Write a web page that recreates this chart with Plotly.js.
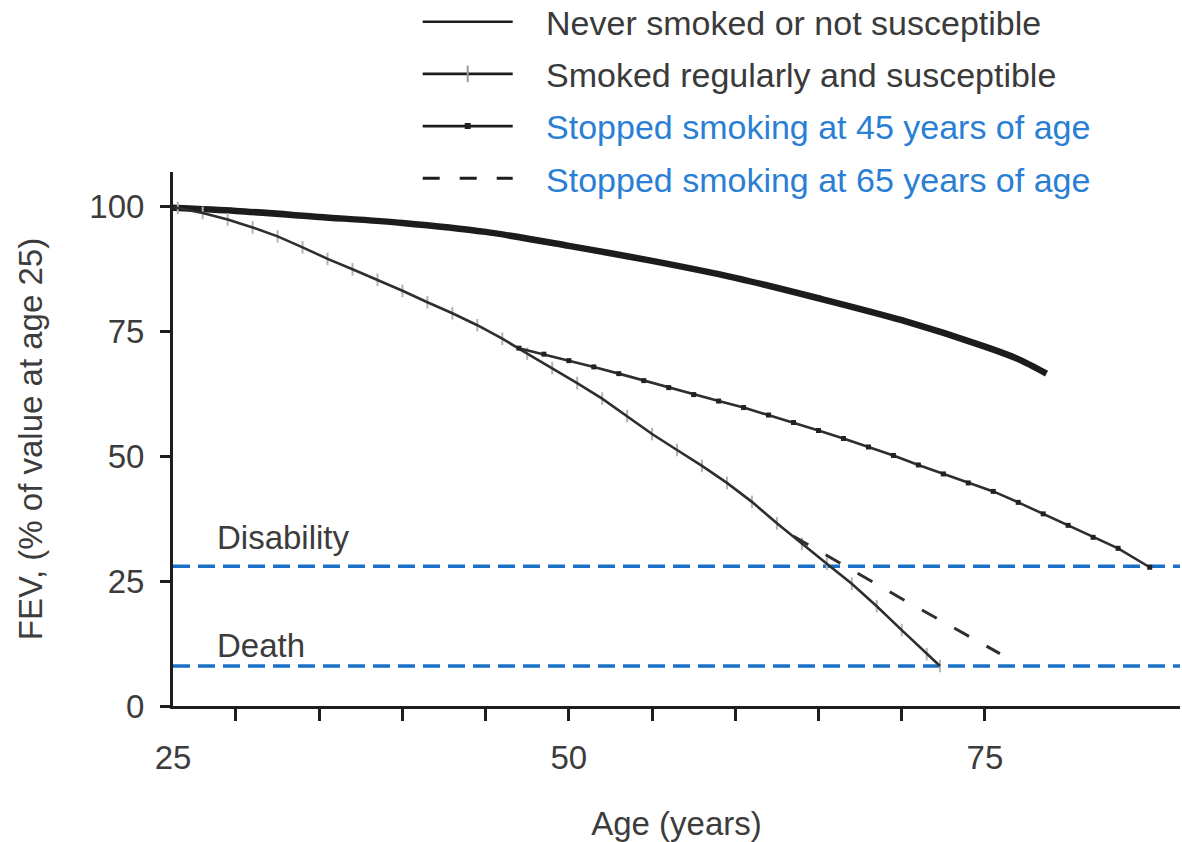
<!DOCTYPE html>
<html>
<head>
<meta charset="utf-8">
<script src="https://cdn.plot.ly/plotly-3.0.1.min.js"></script>
<style>html,body{margin:0;padding:0;background:#fff;}#chart{width:1182px;height:842px;}</style>
</head>
<body>
<div id="chart"></div>
<script>
// ---- data ----
const agesNever = [25, 30, 35, 40, 45, 50, 55, 60, 65, 70, 75, 77, 78.7];
const fevNever  = [100, 99.2, 98.0, 96.8, 95.0, 92.2, 89.2, 85.8, 81.7, 77.3, 72.0, 69.5, 66.6];

const agesSmoker = [25, 26.5, 28, 29.5, 31, 32.5, 34, 35.5, 37, 38.5, 40, 41.5, 43, 44.5, 46, 47.5, 49, 50.5, 52, 53.5, 55, 56.5, 58, 59.5, 61, 62.5, 64, 65.5, 67, 68.5, 70, 71.5, 72.3];
const fevSmoker  = [100.5, 99.8, 98.8, 97.5, 95.9, 94.1, 91.9, 89.6, 87.5, 85.4, 83.2, 80.9, 78.7, 76.3, 73.6, 70.6, 67.7, 64.7, 61.6, 58.1, 54.5, 51.3, 48.1, 44.7, 40.9, 36.6, 32.5, 28.5, 24.5, 20.0, 15.2, 10.4, 8.0];

const agesStop45 = [47, 48.5, 50, 51.5, 53, 54.5, 56, 57.5, 59, 60.5, 62, 63.5, 65, 66.5, 68, 69.5, 71, 72.5, 74, 75.5, 77, 78.5, 80, 81.5, 83, 84.9];
const fevStop45  = [71.7, 70.5, 69.2, 67.95, 66.6, 65.2, 63.8, 62.4, 61.1, 59.8, 58.3, 56.8, 55.2, 53.6, 51.9, 50.2, 48.3, 46.5, 44.7, 43.0, 40.8, 38.5, 36.2, 33.8, 31.6, 27.8];

const agesStop65 = [63.5, 70, 75.9];
const fevStop65  = [34.0, 21.5, 10.5];

const thresholdValues = [28, 8];
const thresholdLabels = ['Disability', 'Death'];

const seriesNames = [
  'Never smoked or not susceptible',
  'Smoked regularly and susceptible',
  'Stopped smoking at 45 years of age',
  'Stopped smoking at 65 years of age'
];
const seriesNameColors = ['#3a3a3a', '#3a3a3a', '#2a7fd4', '#2a7fd4'];

const xTickVals = [30, 35, 40, 45, 50, 55, 60, 65, 70, 75];
const xLabelVals = [50, 75];
const yTickVals = [0, 25, 50, 75, 100];

// ---- chart ----
const FONT = 'Liberation Sans, Arial, sans-serif';
const TXT = '#3c3c3c';
const BLUE = '#1a70c6';
const xStart = 26.215, xEnd = 86.72;
const GAP = '\u00a0\u00a0\u00a0';

function legendName(i) {
  return `<span style="color:${seriesNameColors[i]}">${GAP}${seriesNames[i]}</span>`;
}

const traces = [
  {x: agesNever, y: fevNever, mode: 'lines', line: {color: '#1c1c1c', width: 6.5, shape: 'spline', smoothing: 0.8}, showlegend: false, hoverinfo: 'skip'},
  {x: agesSmoker, y: fevSmoker, mode: 'markers', marker: {symbol: 'line-ns', size: 9, line: {width: 2, color: '#b4b4b4'}}, showlegend: false, hoverinfo: 'skip'},
  {x: agesSmoker, y: fevSmoker, mode: 'lines', line: {color: '#2e2e2e', width: 2.6}, showlegend: false, hoverinfo: 'skip'},
  {x: agesStop45, y: fevStop45, mode: 'lines+markers', line: {color: '#2e2e2e', width: 2.6}, marker: {symbol: 'square', size: 5, color: '#222'}, showlegend: false, hoverinfo: 'skip'},
  {x: agesStop65, y: fevStop65, mode: 'lines', line: {color: '#2e2e2e', width: 3, dash: '17px,20px'}, showlegend: false, hoverinfo: 'skip'},
  // legend entries (no visible data)
  {x: [null], y: [null], mode: 'lines', name: legendName(0), legendgroup: 'a', showlegend: true, line: {color: '#1c1c1c', width: 2.6}},
  {x: [null], y: [null], mode: 'lines+markers', name: legendName(1), legendgroup: 'b', showlegend: true, line: {color: '#1c1c1c', width: 2.6}, marker: {symbol: 'line-ns', size: 12, line: {width: 2, color: '#999'}}},
  {x: [null], y: [null], mode: 'lines+markers', name: legendName(2), legendgroup: 'c', showlegend: true, line: {color: '#1c1c1c', width: 2.6}, marker: {symbol: 'square', size: 6, color: '#222'}},
  {x: [null], y: [null], mode: 'lines', name: legendName(3), legendgroup: 'd', showlegend: true, line: {color: '#1c1c1c', width: 3, dash: '17px,20px'}}
];

const shapes = thresholdValues.map(v => ({
  type: 'line', xref: 'paper', x0: 0, x1: 1, yref: 'y', y0: v, y1: v,
  line: {color: BLUE, width: 3.5, dash: '17px,8px'}, layer: 'below'
}));

const annotations = thresholdLabels.map((t, i) => ({
  text: t, xref: 'paper', x: 0.042, xanchor: 'left', yref: 'y', y: thresholdValues[i], yanchor: 'bottom',
  yshift: i === 0 ? 8 : 0, showarrow: false, font: {family: FONT, size: 33, color: TXT}
}));

const layout = {
  width: 1182, height: 842,
  margin: {l: 173, r: 2, t: 172, b: 136, autoexpand: false},
  paper_bgcolor: '#fff', plot_bgcolor: '#fff',
  font: {family: FONT, size: 33, color: TXT},
  showlegend: true,
  legend: {x: 0.243, xanchor: 'left', y: 1.335, yanchor: 'top', orientation: 'v', traceorder: 'grouped',
           tracegroupgap: 5, itemwidth: 90, bgcolor: 'rgba(0,0,0,0)', font: {family: FONT, size: 34, color: TXT}},
  xaxis: {
    range: [xStart, xEnd], showline: true, linewidth: 3, linecolor: '#1e1e1e', mirror: false,
    showgrid: false, zeroline: false,
    tickmode: 'array', tickvals: [xStart].concat(xLabelVals), ticktext: ['25'].concat(xLabelVals.map(String)),
    ticks: '', ticklabelstandoff: 20,
    minor: {tickmode: 'array', tickvals: xTickVals, ticks: 'outside', ticklen: 12, tickwidth: 3, tickcolor: '#1e1e1e', showgrid: false},
    tickfont: {family: FONT, size: 33, color: TXT},
    title: {text: 'Age (years)', font: {family: FONT, size: 33, color: TXT}, standoff: 40}
  },
  yaxis: {
    range: [0, 107], showline: true, linewidth: 3, linecolor: '#1e1e1e',
    showgrid: false, zeroline: false,
    tickmode: 'array', tickvals: yTickVals, ticks: 'outside', ticklen: 10, tickwidth: 3, tickcolor: '#1e1e1e',
    ticklabelstandoff: 9,
    tickfont: {family: FONT, size: 33, color: TXT},
    title: {text: 'FEV, (% of value at age 25)', font: {family: FONT, size: 33, color: TXT}, standoff: 37}
  },
  shapes: shapes,
  annotations: annotations
};

Plotly.newPlot('chart', traces, layout, {staticPlot: true, displayModeBar: false});
</script>
</body>
</html>
